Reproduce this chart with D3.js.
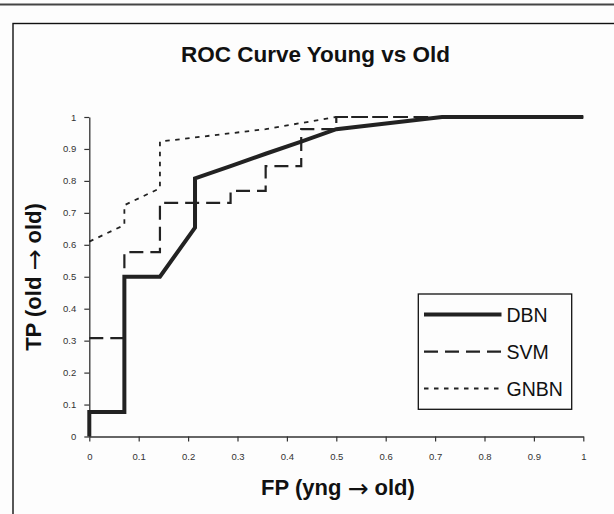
<!DOCTYPE html>
<html><head><meta charset="utf-8">
<script src="https://cdn.jsdelivr.net/npm/d3@7/dist/d3.min.js"></script>
<style>
html,body{margin:0;padding:0;background:#fdfdfd;}
svg{display:block;font-family:"Liberation Sans",Arial,sans-serif;}
</style></head><body>
<svg id="chart" width="614" height="514"></svg>
<script>
// ---- data ----
const seriesNames = ["DBN", "SVM", "GNBN"];
const dbnFP  = [0, 0,     0.071, 0.071, 0.143, 0.214, 0.214, 0.286, 0.357, 0.429, 0.5,   0.714, 1];
const dbnTP  = [0, 0.077, 0.077, 0.5,   0.5,   0.654, 0.808, 0.846, 0.885, 0.923, 0.962, 1,     1];
const svmFP  = [0,     0.071, 0.071, 0.143, 0.143, 0.286, 0.286, 0.357, 0.357, 0.429, 0.429, 0.5,   0.5, 1];
const svmTP  = [0.308, 0.308, 0.577, 0.577, 0.731, 0.731, 0.769, 0.769, 0.846, 0.846, 0.962, 0.962, 1,   1];
const gnbnFP = [0,    0.071, 0.071, 0.143, 0.143, 0.357, 0.5, 1];
const gnbnTP = [0.61, 0.662, 0.724, 0.777, 0.923, 0.962, 1,   1];
const xTicks = [0, 0.1, 0.2, 0.3, 0.4, 0.5, 0.6, 0.7, 0.8, 0.9, 1];
const xTickLabels = ["0","0.1","0.2","0.3","0.4","0.5","0.6","0.7","0.8","0.9","1"];
const yTicks = [0, 0.1, 0.2, 0.3, 0.4, 0.5, 0.6, 0.7, 0.8, 0.9, 1];
const yTickLabels = ["0","0.1","0.2","0.3","0.4","0.5","0.6","0.7","0.8","0.9","1"];
const titleText = "ROC Curve Young vs Old";

// ---- drawing ----
const svg = d3.select("#chart");
const ink = "#222";

// outer decorations
svg.append("line").attr("x1",0).attr("x2",614).attr("y1",4.5).attr("y2",4.5)
  .attr("stroke","#444").attr("stroke-width",2.2);
svg.append("rect").attr("x",13).attr("y",23.5).attr("width",640).attr("height",540)
  .attr("fill","none").attr("stroke","#111").attr("stroke-width",1.4);

const x = d3.scaleLinear().domain([0,1]).range([89.3,583.3]);
const y = d3.scaleLinear().domain([0,1]).range([436.5,117]);

// title
svg.append("text").attr("x",315.5).attr("y",62).attr("text-anchor","middle")
  .attr("font-weight","bold").attr("font-size",22.5).attr("fill","#111").text(titleText);

// axes
const yAxis = d3.axisLeft(y).tickValues(yTicks).tickSize(5).tickSizeOuter(0).tickPadding(8)
  .tickFormat((d,i)=>yTickLabels[i]);
const gy = svg.append("g").attr("transform",`translate(${x(0)},0)`).call(yAxis);
const xAxis = d3.axisBottom(x).tickValues(xTicks).tickSize(5).tickSizeOuter(0).tickPadding(12)
  .tickFormat((d,i)=>xTickLabels[i]);
const gx = svg.append("g").attr("transform",`translate(0,${y(0)})`).call(xAxis);
[gx, gy].forEach(g=>{
  g.select(".domain").attr("stroke","#333").attr("stroke-width",1.3);
  g.selectAll(".tick line").attr("stroke","#333").attr("stroke-width",1.2);
  g.selectAll(".tick text").attr("font-size",9.5).attr("fill","#333")
    .attr("font-family","'Liberation Sans',Arial,sans-serif");
});

// series lines
const line = d3.line().x(d=>x(d[0])).y(d=>y(d[1]));
const zip = (a,b)=>a.map((v,i)=>[v,b[i]]);
const styles = {
  DBN:  {w:4,   dash:null,   join:"miter"},
  SVM:  {w:2.2, dash:"14,7", join:"miter"},
  GNBN: {w:1.8, dash:"4.5,5.5", join:"round"}
};
const seriesData = {DBN: zip(dbnFP,dbnTP), SVM: zip(svmFP,svmTP), GNBN: zip(gnbnFP,gnbnTP)};
["GNBN","SVM","DBN"].forEach(n=>{
  const s = styles[n];
  svg.append("path").datum(seriesData[n]).attr("d",line)
    .attr("fill","none").attr("stroke",ink).attr("stroke-width",s.w)
    .attr("stroke-dasharray",s.dash).attr("stroke-linejoin",s.join);
});

// axis titles
function axisTitle(sel, a, b){
  sel.append("tspan").text(a);
  sel.append("tspan").attr("font-family","'DejaVu Sans',sans-serif").attr("font-weight","normal")
    .attr("font-size",25).attr("dy",2).text("\u2192");
  sel.append("tspan").attr("dy",-2).text(b);
}
const xt = svg.append("text").attr("x",338).attr("y",495).attr("text-anchor","middle")
  .attr("font-weight","bold").attr("font-size",22).attr("fill","#111");
axisTitle(xt, "FP (yng ", " old)");

const yt = svg.append("text").attr("transform","translate(40.5,277) rotate(-90)")
  .attr("text-anchor","middle").attr("font-weight","bold").attr("font-size",22).attr("fill","#111");
axisTitle(yt, "TP (old ", " old)");

// legend
svg.append("rect").attr("x",418.3).attr("y",294).attr("width",153.4).attr("height",115.3)
  .attr("fill","#fdfdfd").attr("stroke","#111").attr("stroke-width",1.3);
const legY = [314.5, 351.7, 388.5];
seriesNames.forEach((n,i)=>{
  const s = styles[n];
  svg.append("line").attr("x1",424).attr("x2",501.5).attr("y1",legY[i]).attr("y2",legY[i])
    .attr("stroke",ink).attr("stroke-width",s.w).attr("stroke-dasharray",s.dash);
  svg.append("text").attr("x",506.5).attr("y",legY[i]+7.2).attr("font-size",19.5)
    .attr("fill","#111").text(n);
});
</script>
</body></html>
